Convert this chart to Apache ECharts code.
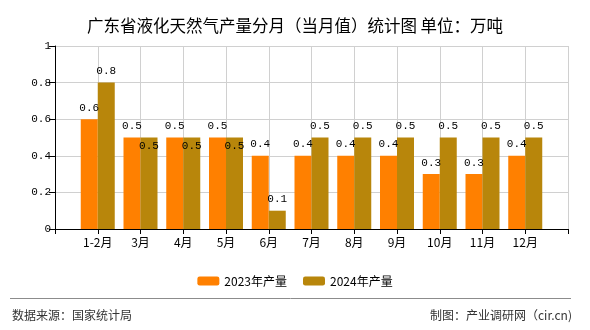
<!DOCTYPE html>
<html>
<head>
<meta charset="utf-8">
<script src="https://cdn.jsdelivr.net/npm/echarts@6/dist/echarts.min.js"></script>
<style>
  html, body { margin: 0; padding: 0; background: #fff; }
  #chart { width: 590px; height: 330px; }
</style>
</head>
<body>
<div id="chart"></div>
<script>
// Monthly LNG output for Guangdong, unit: 10k tonnes
const months = ['1-2月', '3月', '4月', '5月', '6月', '7月', '8月', '9月', '10月', '11月', '12月'];
const output2023 = [0.6, 0.5, 0.5, 0.5, 0.4, 0.4, 0.4, 0.4, 0.3, 0.3, 0.4];
const output2024 = [0.8, 0.5, 0.5, 0.5, 0.1, 0.5, 0.5, 0.5, 0.5, 0.5, 0.5];
const seriesNames = ['2023年产量', '2024年产量'];
// months whose 2024 label sits inside the bar top, clear of the 2023 label
const insideLabelMonths = ['3月', '4月', '5月'];

const titleText = '广东省液化天然气产量分月（当月值）统计图 单位：万吨';
const sourceText = '数据来源：国家统计局';
const makerText = '制图：产业调研网（cir.cn)';

// the axis carries an empty slot at each end so the months sit on the inner ticks
const axisCats = [''].concat(months, ['']);
const pad = arr => [null].concat(arr, [null]);

const labelFont = 'SimSun, "Liberation Mono", "DejaVu Sans Mono", monospace';
const cjkFont = '"Microsoft YaHei", "Noto Sans CJK SC", sans-serif';

const data2024 = pad(output2024).map((v, i) => {
  if (v === null) return null;
  if (insideLabelMonths.indexOf(axisCats[i]) >= 0) {
    return { value: v, label: { position: 'insideTop', distance: 3 } };
  }
  return v;
});

const chart = echarts.init(document.getElementById('chart'), null, { renderer: 'canvas' });
chart.setOption({
  animation: false,
  backgroundColor: '#ffffff',
  title: {
    text: titleText,
    left: 'center',
    top: 12,
    textStyle: { fontFamily: cjkFont, fontSize: 16.5, fontWeight: 'normal', color: '#000' }
  },
  grid: { left: 55, right: 22, top: 46, bottom: 101, containLabel: false },
  legend: {
    data: seriesNames,
    left: 'center',
    top: 270,
    itemWidth: 22,
    itemHeight: 9,
    itemGap: 16,
    textStyle: { fontFamily: cjkFont, fontSize: 12, color: '#000' }
  },
  xAxis: {
    type: 'category',
    data: axisCats,
    boundaryGap: false,
    axisLine: { lineStyle: { color: '#000', width: 1 } },
    axisTick: { show: true, length: 5, lineStyle: { color: '#000' } },
    axisLabel: { fontFamily: cjkFont, fontSize: 12, color: '#000', margin: 7, interval: 0 },
    splitLine: { show: true, lineStyle: { color: '#d0d0d0', width: 1 } }
  },
  yAxis: {
    type: 'value',
    min: 0,
    max: 1,
    interval: 0.2,
    axisLine: { show: true, lineStyle: { color: '#000', width: 1 } },
    axisTick: { show: true, length: 6, lineStyle: { color: '#000' } },
    axisLabel: { fontFamily: labelFont, fontSize: 11, color: '#000', margin: 4 },
    splitLine: { show: true, lineStyle: { color: '#d0d0d0', width: 1 } }
  },
  series: [
    {
      name: seriesNames[0],
      type: 'bar',
      data: pad(output2023),
      barWidth: 17,
      barGap: '0%',
      itemStyle: { color: '#ff8000' },
      label: {
        show: true, position: 'top', distance: 6,
        fontFamily: labelFont, fontSize: 11, color: '#000'
      }
    },
    {
      name: seriesNames[1],
      type: 'bar',
      data: data2024,
      barWidth: 17,
      barGap: '0%',
      itemStyle: { color: '#b8860b' },
      label: {
        show: true, position: 'top', distance: 6,
        fontFamily: labelFont, fontSize: 11, color: '#000'
      }
    }
  ],
  graphic: [
    {
      type: 'line',
      shape: { x1: 10, y1: 298.5, x2: 571, y2: 298.5 },
      style: { stroke: '#8c8c8c', lineWidth: 1 }
    },
    {
      type: 'text',
      left: 12,
      top: 309,
      style: { text: sourceText, font: '12px ' + cjkFont, fill: '#333' }
    },
    {
      type: 'text',
      right: 18,
      top: 309,
      style: { text: makerText, font: '12px ' + cjkFont, fill: '#333' }
    }
  ]
});
</script>
</body>
</html>
